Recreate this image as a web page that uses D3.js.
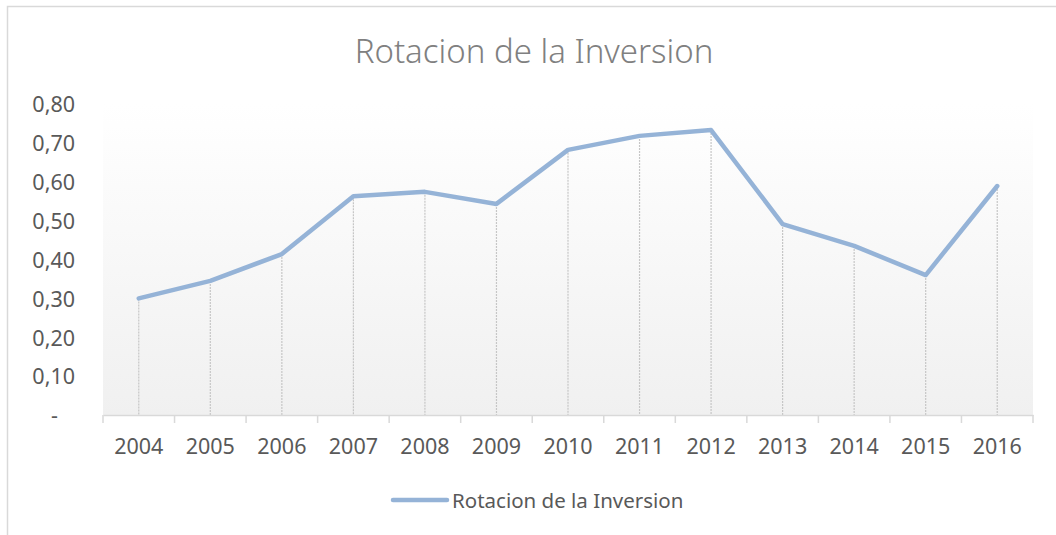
<!DOCTYPE html>
<html lang="es">
<head>
	<meta charset="UTF-8">
	<title>Rotacion de la Inversion</title>
	<script src="https://cdnjs.cloudflare.com/ajax/libs/d3/7.8.5/d3.min.js"></script>
	<style>
		*{
			padding: 0;
			margin: 0;
		}
		body{
			background: #fff;
		}
		text{
			font-family: "Noto Sans", "Open Sans", sans-serif;
			fill: #595959;
		}
	</style>
</head>
<body>
	<div id="container"></div>
<script>
	var years=['2004','2005','2006','2007','2008','2009','2010','2011','2012','2013','2014','2015','2016']
	var values=[0.30,0.345,0.414,0.563,0.574,0.543,0.682,0.718,0.733,0.491,0.435,0.360,0.589]
	var yTicks=[0,0.1,0.2,0.3,0.4,0.5,0.6,0.7,0.8]
	var seriesName='Rotacion de la Inversion'

	var width=1056,
	height=535,
	margin={left:103,top:104,right:23,bottom:120},
	g_width=width-margin.left-margin.right,
	g_height=height-margin.top-margin.bottom

	var svg=d3.select('#container')
	.append('svg')
	.attr('width',width)
	.attr('height',height)
	.style('display','block')

	// chart frame (runs off the right and bottom edges)
	svg.append('rect')
	.attr('x',7.5).attr('y',6.5)
	.attr('width',1080).attr('height',560)
	.attr('fill','#fff')
	.attr('stroke','#d9d9d9')
	.attr('stroke-width',1.5)

	var grad=svg.append('defs').append('linearGradient')
	.attr('id','bg').attr('x1',0).attr('y1',0).attr('x2',0).attr('y2',1)
	grad.append('stop').attr('offset','0%').attr('stop-color','#ffffff')
	grad.append('stop').attr('offset','100%').attr('stop-color','#f0f0f0')

	svg.append('text')
	.attr('x',534).attr('y',63)
	.attr('text-anchor','middle')
	.style('font-size','33px')
	.style('font-weight','300')
	.style('fill','#808080')
	.text(seriesName)

	var g=svg.append('g')
	.attr('transform','translate('+margin.left+','+margin.top+')')

	var scale_x=d3.scaleBand()
	.domain(years)
	.range([0,g_width])

	var scale_y=d3.scaleLinear()
	.domain([0,0.8])
	.range([g_height,0])

	g.append('rect')
	.attr('width',g_width)
	.attr('height',g_height)
	.attr('fill','url(#bg)')

	// drop lines
	g.selectAll('.drop')
	.data(values)
	.enter()
	.append('line')
	.attr('class','drop')
	.attr('x1',function(d,i){return scale_x(years[i])+scale_x.bandwidth()/2})
	.attr('x2',function(d,i){return scale_x(years[i])+scale_x.bandwidth()/2})
	.attr('y1',function(d){return scale_y(d)})
	.attr('y2',g_height)
	.attr('stroke','#c6c6c6')
	.attr('stroke-width',1.2)
	.attr('stroke-dasharray','2,1')

	// y axis labels
	var y_axis=d3.axisLeft(scale_y)
	.tickValues(yTicks)
	.tickSize(0)
	.tickPadding(28)
	.tickFormat(function(d){return d===0?'-':d3.format('.2f')(d).replace('.',',')})

	var gy=g.append('g').call(y_axis)
	gy.select('.domain').remove()
	gy.selectAll('text')
	.style('font-size','21.5px')
	.attr('dy','0.36em')
	.style('fill','#595959')
	gy.selectAll('text')
	.filter(function(d){return d===0})
	.attr('dx','-17px')

	// x axis
	var x_axis=d3.axisBottom(scale_x).tickSize(0).tickPadding(24)
	var gx=g.append('g')
	.attr('transform','translate(0,'+g_height+')')
	.call(x_axis)
	gx.select('.domain')
	.attr('stroke','#d9d9d9')
	.attr('stroke-width',1.5)
	gx.selectAll('text')
	.style('font-size','21.5px')
	.style('fill','#595959')
	.attr('dy','0.71em')

	var edges=years.map(function(y){return scale_x(y)}).concat([g_width])
	gx.selectAll('.edge')
	.data(edges)
	.enter()
	.append('line')
	.attr('class','edge')
	.attr('x1',function(d){return d}).attr('x2',function(d){return d})
	.attr('y1',0).attr('y2',8)
	.attr('stroke','#d9d9d9')
	.attr('stroke-width',1.5)

	var line_generator=d3.line()
	.x(function(d,i){return scale_x(years[i])+scale_x.bandwidth()/2})
	.y(function(d){return scale_y(d)})

	g.append('path')
	.attr('d',line_generator(values))
	.attr('fill','none')
	.attr('stroke','#95b3d7')
	.attr('stroke-width',4.5)
	.attr('stroke-linejoin','round')
	.attr('stroke-linecap','round')

	// legend
	var lg=svg.append('g').attr('transform','translate(393,500)')
	lg.append('line')
	.attr('x1',0).attr('x2',54)
	.attr('stroke','#95b3d7')
	.attr('stroke-width',4.5)
	.attr('stroke-linecap','round')
	lg.append('text')
	.attr('x',59).attr('y',8)
	.style('font-size','20.5px')
	.text(seriesName)
</script>
</body>
</html>
